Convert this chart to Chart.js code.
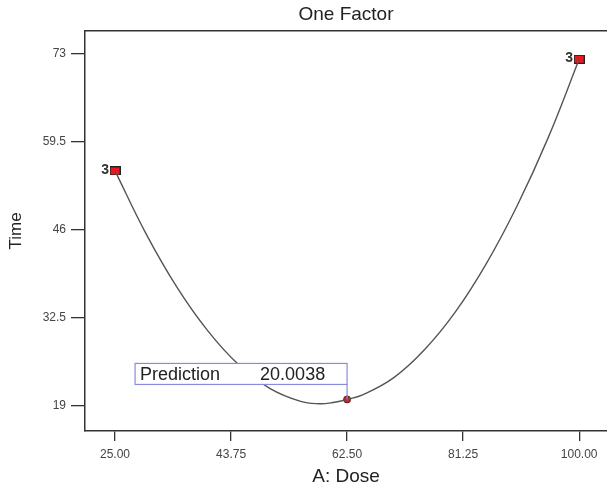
<!DOCTYPE html>
<html>
<head>
<meta charset="utf-8">
<script src="https://cdn.jsdelivr.net/npm/chart.js@4/dist/chart.umd.min.js"></script>
<style>
  html, body { margin: 0; padding: 0; background: #fff; }
  #wrap { width: 607px; height: 490px; position: relative; }
</style>
</head>
<body>
<div id="wrap"><canvas id="c"></canvas></div>
<script>
// ---- data ----
const chartTitle = "One Factor";
const xTitle = "A: Dose";
const yTitle = "Time";
const xTickValues = [25, 43.75, 62.5, 81.25, 100];
const yTickValues = [19, 32.5, 46, 59.5, 73];
// fitted model curve
const curveX = [25, 30, 35, 40, 45, 50, 55, 58, 60, 62.5, 65, 70, 75, 80, 85, 90, 95, 100];
const curveY = [55.0, 45.4, 37.2, 30.5, 25.3, 21.7, 19.7, 19.35, 19.5, 20.0, 20.7, 23.3, 27.6, 33.4, 40.8, 49.7, 60.1, 72.1];
// design points (with replicate counts)
const designX = [25, 100];
const designY = [55.0, 72.1];
const designLabels = ["3", "3"];
// prediction flag
const predX = [62.5];
const predY = [20.0038];
const predLabel = "Prediction";
const predValueText = "20.0038";

// square marker image
function makeSquare() {
  const cv = document.createElement('canvas');
  cv.width = 11; cv.height = 9;
  const g = cv.getContext('2d');
  g.fillStyle = '#e81820';
  g.fillRect(0.5, 0.5, 10, 8);
  g.strokeStyle = '#222';
  g.lineWidth = 1;
  g.strokeRect(0.5, 0.5, 10, 8);
  return cv;
}
const squareImg = makeSquare();

const FONT = "'Liberation Sans', Arial, sans-serif";

const overlay = {
  id: 'overlay',
  afterDatasetDraw(chart, args) {
    if (args.index !== 0) return;
    // prediction box, anchored to the prediction point
    const xs = chart.scales.x, ys = chart.scales.y;
    const px = xs.getPixelForValue(predX[0]);
    const py = ys.getPixelForValue(predY[0]);
    const ctx = chart.ctx;
    ctx.save();
    const right = px, bottom = py - 15, w = 212, h = 21;
    const left = right - w, top = bottom - h;
    ctx.fillStyle = '#fff';
    ctx.fillRect(left, top, w, h);
    ctx.strokeStyle = '#8a8ae0';
    ctx.lineWidth = 1.2;
    ctx.strokeRect(left, top, w, h);
    ctx.beginPath();
    ctx.moveTo(right, bottom);
    ctx.lineTo(right, py);
    ctx.stroke();
    ctx.fillStyle = '#222';
    ctx.font = '18px ' + FONT;
    ctx.textBaseline = 'middle';
    ctx.textAlign = 'left';
    ctx.fillText(predLabel, left + 5, top + h / 2 + 1);
    ctx.fillText(predValueText, left + 125, top + h / 2 + 1);
    ctx.restore();
  },
  afterDatasetsDraw(chart) {
    const ctx = chart.ctx;
    const meta = chart.getDatasetMeta(1);
    ctx.save();
    ctx.fillStyle = '#333';
    ctx.font = 'bold 14px ' + FONT;
    ctx.textAlign = 'right';
    ctx.textBaseline = 'middle';
    meta.data.forEach((el, i) => {
      ctx.fillText(designLabels[i], el.x - 6, el.y - 1);
    });
    ctx.restore();
  },
  afterDraw(chart) {
    const {ctx, chartArea} = chart;
    ctx.save();
    ctx.strokeStyle = '#333';
    ctx.lineWidth = 1.5;
    ctx.beginPath();
    ctx.moveTo(chartArea.left, chartArea.top);
    ctx.lineTo(chartArea.right, chartArea.top);
    ctx.stroke();
    ctx.restore();
  }
};

new Chart(document.getElementById('c'), {
  type: 'scatter',
  data: {
    datasets: [
      {
        data: curveX.map((x, i) => ({x, y: curveY[i]})),
        showLine: true,
        borderColor: '#555',
        borderWidth: 1.4,
        pointRadius: 0,
        tension: 0.4,
        fill: false
      },
      {
        data: designX.map((x, i) => ({x, y: designY[i]})),
        pointStyle: squareImg,
        pointRadius: 5
      },
      {
        data: predX.map((x, i) => ({x, y: predY[i]})),
        pointStyle: 'circle',
        pointRadius: 3.5,
        backgroundColor: '#e81820',
        borderColor: '#552222',
        borderWidth: 1
      }
    ]
  },
  options: {
    responsive: true,
    maintainAspectRatio: false,
    animation: false,
    devicePixelRatio: 1,
    layout: { autoPadding: false, padding: { left: 0, right: 0, top: 0, bottom: 0 } },
    plugins: {
      legend: { display: false },
      tooltip: { enabled: false },
      title: {
        display: true,
        fullSize: false,
        text: chartTitle,
        color: '#222',
        font: { family: FONT, size: 19, weight: 'normal' },
        padding: { top: 3, bottom: 5 }
      }
    },
    scales: {
      x: {
        type: 'linear',
        min: 20.15,
        max: 104.5,
        afterBuildTicks(s) { s.ticks = xTickValues.map(v => ({value: v})); },
        afterFit(s) { s.height = 59; s.paddingLeft = 0; s.paddingRight = 0; },
        ticks: {
          color: '#444',
          font: { family: FONT, size: 12 },
          padding: 6,
          maxRotation: 0,
          callback: v => Number(v).toFixed(2)
        },
        grid: { drawOnChartArea: false, drawTicks: true, tickLength: 10, color: '#333', lineWidth: 1.3 },
        border: { display: true, color: '#333', width: 1.5 },
        title: {
          display: true,
          text: xTitle,
          color: '#222',
          font: { family: FONT, size: 19 },
          padding: { top: 4, bottom: 2 }
        }
      },
      y: {
        type: 'linear',
        min: 15.17,
        max: 76.46,
        afterBuildTicks(s) { s.ticks = yTickValues.map(v => ({value: v})); },
        afterFit(s) { s.width = 85; s.paddingTop = 0; s.paddingBottom = 0; },
        ticks: {
          color: '#444',
          font: { family: FONT, size: 12 },
          padding: 5,
          callback: v => String(v)
        },
        grid: { drawOnChartArea: false, drawTicks: true, tickLength: 14, color: '#333', lineWidth: 1.3 },
        border: { display: true, color: '#333', width: 1.5 },
        title: {
          display: true,
          text: yTitle,
          color: '#222',
          font: { family: FONT, size: 17 },
          padding: { top: 6, bottom: 0 }
        }
      }
    }
  },
  plugins: [overlay]
});
</script>
</body>
</html>
